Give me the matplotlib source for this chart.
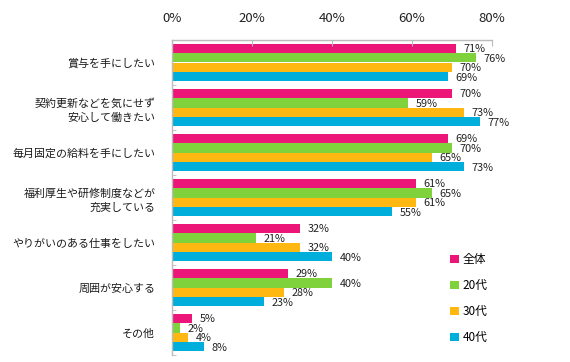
import matplotlib
matplotlib.use("Agg")
import matplotlib.pyplot as plt
from matplotlib.patches import Patch
import numpy as np

plt.rcParams['font.family'] = ['Noto Sans CJK JP', 'DejaVu Sans']

categories = ["賞与を手にしたい",
              "契約更新などを気にせず\n安心して働きたい",
              "毎月固定の給料を手にしたい",
              "福利厚生や研修制度などが\n充実している",
              "やりがいのある仕事をしたい",
              "周囲が安心する",
              "その他"]
series_names = ["全体", "20代", "30代", "40代"]
v_all = [71, 70, 69, 61, 32, 29, 5]
v_20 = [76, 59, 70, 65, 21, 40, 2]
v_30 = [70, 73, 65, 61, 32, 28, 4]
v_40 = [69, 77, 73, 55, 40, 23, 8]
series_values = [v_all, v_20, v_30, v_40]
colors = ["#EC1679", "#80D23C", "#FFB812", "#00AEDB"]
xticks = [0, 20, 40, 60, 80]
xtick_labels = ["0%", "20%", "40%", "60%", "80%"]

fig = plt.figure(figsize=(5.7, 3.62), dpi=100)
ax = fig.add_axes([172/570, 1-355/362, 320/570, 315/362])

n = len(categories)
bh = 0.211
y = np.arange(n)
for k, (vals, c) in enumerate(zip(series_values, colors)):
    pos = y - 1.5*bh + k*bh
    ax.barh(pos, vals, height=bh, color=c, edgecolor='none')
    for p, v in zip(pos, vals):
        ax.text(v + 1.9, p + 0.02, f"{v}%", va='center', ha='left', fontsize=7.8, color='#222222')

ax.set_xlim(0, 80)
ax.set_ylim(n - 0.5, -0.5)
ax.xaxis.tick_top()
ax.set_xticks(xticks)
ax.set_xticklabels(xtick_labels, fontsize=9.5, color='#222222')
ax.tick_params(axis='x', direction='in', length=4, color='#BBBBBB', pad=11)
ax.set_yticks(y)
ax.set_yticklabels(categories, fontsize=7.9, color='#1a1a1a', linespacing=1.5)
ax.tick_params(axis='y', length=0, pad=12)
ax.set_yticks(np.arange(n + 1) - 0.5, minor=True)
ax.tick_params(axis='y', which='minor', direction='in', length=3, color='#BBBBBB')
for s in ['right', 'bottom']:
    ax.spines[s].set_visible(False)
for s in ['top', 'left']:
    ax.spines[s].set_color('#BBBBBB')
    ax.spines[s].set_linewidth(1)

handles = [Patch(facecolor=c, edgecolor='none') for c in colors]
fig.legend(handles, series_names, loc='upper left', bbox_to_anchor=(450/570, 1-253/362),
           frameon=False, fontsize=8.5, handlelength=0.75, handleheight=0.75,
           handletextpad=0.3, labelspacing=1.1, borderpad=0, borderaxespad=0)

fig.savefig("out.png", dpi=100)
